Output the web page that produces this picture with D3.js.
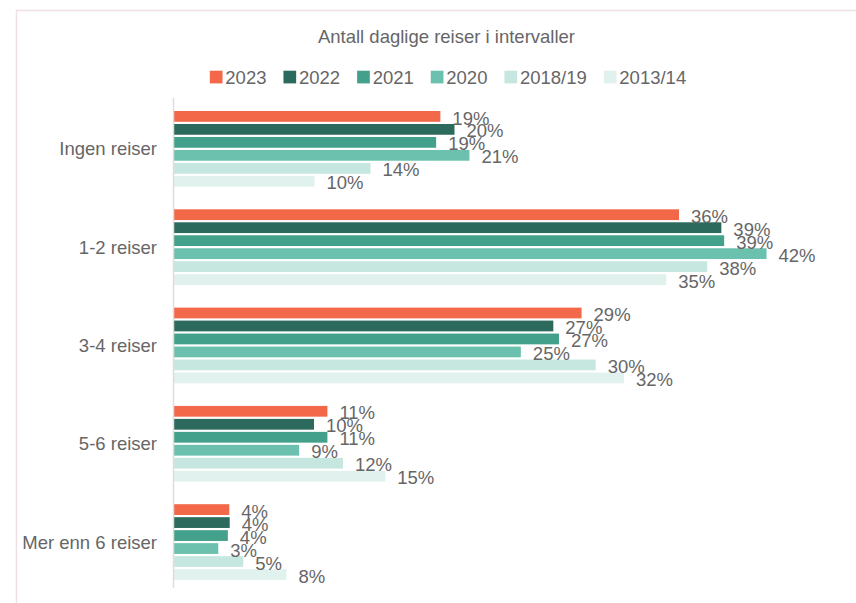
<!DOCTYPE html>
<html>
<head>
<meta charset="utf-8">
<title>Antall daglige reiser i intervaller</title>
<script src="https://d3js.org/d3.v7.min.js"></script>
<style>
  html, body { margin: 0; background: #fff; }
  text { font-family: "Liberation Sans", Arial, sans-serif; fill: #666; }
</style>
</head>
<body>
<div id="chart"></div>
<script>
// data
var categories = ["Ingen reiser", "1-2 reiser", "3-4 reiser", "5-6 reiser", "Mer enn 6 reiser"];
var seriesNames = ["2023", "2022", "2021", "2020", "2018/19", "2013/14"];
var colors = ["#f26849", "#2c6a5d", "#43a08a", "#6cc1ae", "#c6e7e0", "#e1f2ee"];

var v2023   = [18.9, 35.8, 28.9, 10.9, 3.95];
var v2022   = [19.9, 38.8, 26.9, 9.95, 3.98];
var v2021   = [18.6, 39.0, 27.3, 10.9, 3.85];
var v2020   = [20.96, 42.0, 24.6, 8.9, 3.17];
var v2018   = [13.95, 37.8, 29.9, 12.0, 4.94];
var v2013   = [9.99, 34.9, 31.9, 15.0, 8.0];
var seriesValues = [v2023, v2022, v2021, v2020, v2018, v2013];

var W = 856, H = 603;
var fs = 18.5;

var svg = d3.select("#chart").append("svg")
  .attr("width", W).attr("height", H);

// thin frame round the chart area (top and left edges visible)
svg.append("line").attr("x1", 16).attr("x2", W).attr("y1", 10.5).attr("y2", 10.5)
  .attr("stroke", "#efe0e6").attr("stroke-width", 1.5);
svg.append("line").attr("x1", 16.5).attr("x2", 16.5).attr("y1", 10).attr("y2", H)
  .attr("stroke", "#efe0e6").attr("stroke-width", 1.5);

var x0 = 173.5;
var x = d3.scaleLinear().domain([0, 45]).range([x0, x0 + 635.4]);

var y = d3.scaleBand().domain(categories).range([99.7, 591.2])
  .paddingInner(0.23).paddingOuter(0.115);
var yInner = d3.scaleBand().domain(seriesNames).range([0, y.bandwidth()])
  .paddingInner(0.17);

var rows = [];
seriesNames.forEach(function(s, i) {
  categories.forEach(function(c, j) {
    rows.push({ series: s, cat: c, value: seriesValues[i][j], color: colors[i] });
  });
});

// bars
svg.append("g").selectAll("rect").data(rows).enter().append("rect")
  .attr("x", x(0))
  .attr("y", function(d) { return y(d.cat) + yInner(d.series); })
  .attr("width", function(d) { return x(d.value) - x(0); })
  .attr("height", yInner.bandwidth())
  .attr("fill", function(d) { return d.color; });

// value labels
svg.append("g").selectAll("text").data(rows).enter().append("text")
  .attr("x", function(d) { return x(d.value) + 12; })
  .attr("y", function(d) { return y(d.cat) + yInner(d.series) + yInner.bandwidth() / 2 + 1.5 + 0.358 * fs; })
  .style("font-size", fs + "px")
  .text(function(d) { return Math.round(d.value) + "%"; });

// category axis line
svg.append("line").attr("x1", x0).attr("x2", x0).attr("y1", 98).attr("y2", 588)
  .attr("stroke", "#e4d9de").attr("stroke-width", 1.5);

// category labels
svg.append("g").selectAll("text").data(categories).enter().append("text")
  .attr("x", 157)
  .attr("y", function(d) { return y(d) + y.bandwidth() / 2 + 0.358 * fs; })
  .attr("text-anchor", "end")
  .style("font-size", fs + "px")
  .text(function(d) { return d; });

// title
svg.append("text")
  .attr("x", 446.5).attr("y", 36.7 + 0.358 * fs)
  .attr("text-anchor", "middle")
  .style("font-size", fs + "px")
  .text("Antall daglige reiser i intervaller");

// legend
var legend = svg.append("g");
var lx = 0;
seriesNames.forEach(function(s, i) {
  var g = legend.append("g").attr("transform", "translate(" + lx + ",0)");
  g.append("rect").attr("x", 0).attr("y", 70.7).attr("width", 12.7).attr("height", 12.7)
    .attr("fill", colors[i]);
  var t = g.append("text").attr("x", 15.5).attr("y", 77 + 0.358 * fs)
    .style("font-size", fs + "px").text(s);
  lx += 15.5 + t.node().getComputedTextLength() + 17;
});
var legendWidth = lx - 17;
legend.attr("transform", "translate(" + (448 - legendWidth / 2) + ",0)");
</script>
</body>
</html>
